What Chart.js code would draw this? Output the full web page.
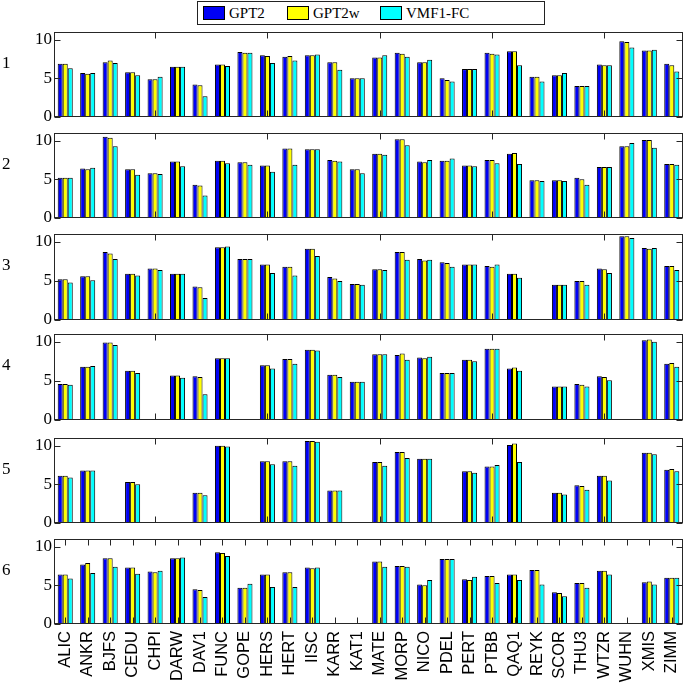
<!DOCTYPE html>
<html>
<head>
<meta charset="utf-8">
<script src="https://cdn.jsdelivr.net/npm/chart.js@4.4.1/dist/chart.umd.min.js"></script>
<style>
body { margin: 0; background: #fff; }
#wrap { position: relative; width: 685px; height: 683px; overflow: hidden; }
#wrap canvas { position: absolute; left: 0; }
.plabel { position: absolute; left: 2px; font: 17px "Liberation Serif", "Times New Roman", serif; line-height: 20px; color: #000; }
#legend { position: absolute; left: 197px; top: 1px; width: 348px; height: 24px; border: 1px solid #222; box-sizing: border-box; background: #fff;
  font: 15px "Liberation Serif", "Times New Roman", serif; color: #000; }
#legend .sw { position: absolute; top: 4px; width: 22px; height: 14px; border: 1px solid #000; box-sizing: border-box; }
#legend .txt { position: absolute; top: 2px; line-height: 18px; white-space: nowrap; }
</style>
</head>
<body>
<div id="wrap"></div>
<script>
// stations on the x axis
const stations = ['ALIC','ANKR','BJFS','CEDU','CHPI','DARW','DAV1','FUNC','GOPE','HERS','HERT','IISC','KARR','KAT1',
  'MATE','MORP','NICO','PDEL','PERT','PTBB','QAQ1','REYK','SCOR','THU3','WTZR','WUHN','XMIS','ZIMM'];
const seriesNames = ['GPT2', 'GPT2w', 'VMF1-FC'];
const seriesColors = ['#0000f5', '#ffff00', '#00ffff'];
const panelNames = ['1', '2', '3', '4', '5', '6'];
const yTicks = [0, 5, 10];

// values per panel, null = no bar
const p1Gpt2  = [6.9,5.7,7.1,5.8,4.9,6.5,4.2,6.8,8.4,8.0,7.8,8.0,7.1,5.0,7.7,8.3,7.1,5.0,6.2,8.3,8.5,5.2,5.4,4.0,6.8,9.8,8.6,6.9];
const p1Gpt2w = [6.9,5.6,7.3,5.8,4.9,6.5,4.1,6.8,8.3,7.9,7.9,8.0,7.1,5.0,7.7,8.2,7.1,4.8,6.2,8.2,8.5,5.2,5.4,4.0,6.7,9.7,8.6,6.7];
const p1Vmf1  = [6.3,5.7,7.0,5.4,5.2,6.5,2.7,6.6,8.3,7.0,7.3,8.1,6.1,5.0,8.0,7.8,7.4,4.6,6.2,8.1,6.7,4.6,5.7,4.0,6.7,9.0,8.7,5.9];

const p2Gpt2  = [5.2,6.4,10.5,6.3,5.8,7.3,4.3,7.4,7.2,6.8,9.0,8.9,7.5,6.3,8.3,10.2,7.3,7.4,6.8,7.5,8.3,4.9,4.9,5.2,6.6,9.3,10.1,7.0];
const p2Gpt2w = [5.2,6.3,10.4,6.3,5.8,7.3,4.2,7.4,7.2,6.8,9.0,8.9,7.4,6.3,8.3,10.2,7.2,7.4,6.8,7.5,8.4,4.9,4.9,5.0,6.6,9.3,10.1,7.0];
const p2Vmf1  = [5.2,6.5,9.3,5.6,5.7,6.7,2.9,7.1,6.9,6.0,6.9,8.9,7.3,5.8,8.2,9.4,7.5,7.7,6.7,7.1,7.0,4.8,4.8,4.3,6.6,9.7,9.1,6.9];

const p3Gpt2  = [5.2,5.6,8.7,5.9,6.6,5.9,4.3,9.3,7.8,7.1,6.8,9.1,5.5,4.6,6.5,8.7,7.8,7.4,7.1,6.9,5.9,null,4.5,5.0,6.6,10.7,9.2,6.9];
const p3Gpt2w = [5.2,5.6,8.5,5.9,6.6,5.9,4.2,9.3,7.8,7.1,6.8,9.1,5.3,4.6,6.5,8.7,7.6,7.3,7.1,6.8,5.9,null,4.5,5.0,6.5,10.7,9.1,6.9];
const p3Vmf1  = [4.8,5.1,7.8,5.7,6.4,5.9,2.8,9.4,7.8,6.0,5.7,8.2,5.0,4.5,6.4,7.7,7.7,6.8,7.1,7.1,5.4,null,4.5,4.5,6.0,10.5,9.2,6.4];

const p4Gpt2  = [4.6,6.8,9.9,6.3,null,5.7,5.6,7.9,null,7.0,7.8,9.0,5.8,4.9,8.4,8.3,8.0,6.0,7.7,9.1,6.6,null,4.3,4.6,5.6,null,10.2,7.2];
const p4Gpt2w = [4.6,6.8,9.9,6.3,null,5.7,5.5,7.9,null,7.0,7.8,9.0,5.8,4.9,8.4,8.5,7.9,6.0,7.7,9.1,6.7,null,4.3,4.5,5.5,null,10.3,7.3];
const p4Vmf1  = [4.5,6.9,9.6,6.0,null,5.4,3.3,7.9,null,6.6,7.2,8.9,5.5,4.9,8.4,7.7,8.1,6.0,7.5,9.1,6.3,null,4.3,4.3,5.1,null,10.0,6.8];

const p5Gpt2  = [6.1,6.8,null,5.3,null,null,3.9,10.0,null,8.0,8.0,10.6,4.2,null,7.9,9.2,8.3,null,6.7,7.3,10.1,null,3.9,4.9,6.1,null,9.1,6.9];
const p5Gpt2w = [6.1,6.8,null,5.3,null,null,3.9,10.0,null,8.0,8.0,10.6,4.2,null,7.9,9.2,8.3,null,6.7,7.3,10.3,null,3.9,4.8,6.1,null,9.1,7.0];
const p5Vmf1  = [5.9,6.8,null,5.0,null,null,3.6,9.9,null,7.6,7.4,10.5,4.2,null,7.4,8.4,8.3,null,6.5,7.5,7.9,null,3.7,4.3,5.5,null,8.9,6.7];

const p6Gpt2  = [6.4,7.7,8.5,7.3,6.8,8.5,4.5,9.3,4.7,6.4,6.7,7.3,null,null,8.1,7.5,5.1,8.4,5.8,6.2,6.4,7.0,4.1,5.3,6.9,null,5.4,6.0];
const p6Gpt2w = [6.4,7.9,8.5,7.3,6.7,8.5,4.4,9.2,4.7,6.4,6.7,7.2,null,null,8.1,7.5,5.0,8.4,5.7,6.2,6.4,7.0,4.0,5.3,6.9,null,5.5,6.0];
const p6Vmf1  = [5.9,6.6,7.4,6.5,6.9,8.6,3.5,8.8,5.2,4.8,4.8,7.3,null,null,7.4,7.4,5.7,8.4,6.1,5.3,5.7,5.1,3.6,4.7,6.4,null,5.1,6.0];

const panels = [
  [p1Gpt2, p1Gpt2w, p1Vmf1], [p2Gpt2, p2Gpt2w, p2Vmf1], [p3Gpt2, p3Gpt2w, p3Vmf1],
  [p4Gpt2, p4Gpt2w, p4Vmf1], [p5Gpt2, p5Gpt2w, p5Vmf1], [p6Gpt2, p6Gpt2w, p6Vmf1]
];

// layout of the plot boxes (page pixels)
const panelTop = [32, 133, 234, 334, 438, 539];
const panelBottom = [117, 218, 320, 420, 523, 624];
const PAD = 10;

// box + inward ticks, matlab style
const framePlugin = {
  id: 'frame',
  afterDatasetsDraw(chart, args, opts) {
    const { ctx, chartArea: a, scales: { x, y } } = chart;
    const L = Math.round(a.left) + 0.5, R = Math.round(a.right) - 0.5;
    const T = Math.round(a.top) + 0.5, B = Math.round(a.bottom) - 0.5;
    ctx.save();
    ctx.strokeStyle = '#262626'; ctx.lineWidth = 1;
    ctx.beginPath();
    yTicks.forEach(v => {
      const py = Math.round(y.getPixelForValue(v)) + 0.5;
      ctx.moveTo(L, py); ctx.lineTo(L + 6, py);
      ctx.moveTo(R, py); ctx.lineTo(R - 6, py);
    });
    opts.xTicks.forEach(i => {
      const px = Math.round(x.getPixelForValue(i)) + 0.5;
      ctx.moveTo(px, T); ctx.lineTo(px, T + 6);
      ctx.moveTo(px, B); ctx.lineTo(px, B - 6);
    });
    ctx.stroke();
    ctx.strokeRect(L, T, R - L, B - T);
    ctx.restore();
  }
};

const wrap = document.getElementById('wrap');

panels.forEach((series, p) => {
  const isLast = p === panels.length - 1;
  const cTop = panelTop[p] - PAD;
  const cH = isLast ? 683 - cTop : panelBottom[p] + PAD - cTop;
  const canvas = document.createElement('canvas');
  canvas.width = 685; canvas.height = cH;
  canvas.style.top = cTop + 'px';
  wrap.appendChild(canvas);

  const xTicks = isLast ? stations.map((s, i) => i) : [4, 9, 14, 19, 24];

  new Chart(canvas, {
    type: 'bar',
    data: {
      labels: stations,
      datasets: series.map((arr, k) => ({
        label: seriesNames[k], data: arr,
        backgroundColor: seriesColors[k], borderColor: '#000', borderWidth: 1,
        categoryPercentage: 0.67, barPercentage: 1
      }))
    },
    options: {
      responsive: false, animation: false, devicePixelRatio: 1,
      layout: { padding: { top: PAD, right: 2, bottom: isLast ? 0 : PAD, left: 0 } },
      plugins: { legend: { display: false }, tooltip: { enabled: false }, frame: { xTicks } },
      scales: {
        x: {
          display: isLast,
          grid: { display: false, drawTicks: false }, border: { display: false },
          ticks: { autoSkip: false, maxRotation: 90, minRotation: 90, padding: 7, color: '#000',
            font: { family: '"Liberation Sans", Arial, sans-serif', size: 16.5 } },
          afterFit(s) {
            if (!isLast) return;
            s.height = 683 - panelBottom[p];
            s.paddingLeft = 0; s.paddingRight = 0;
          }
        },
        y: {
          min: 0, max: 11,
          grid: { display: false, drawTicks: false }, border: { display: false },
          ticks: { padding: 2, color: '#000', font: { family: '"Liberation Serif", "Times New Roman", serif', size: 17 } },
          afterBuildTicks(s) { s.ticks = yTicks.map(v => ({ value: v })); },
          afterFit(s) { s.width = 54; s.paddingTop = 0; s.paddingBottom = 0; }
        }
      }
    },
    plugins: [framePlugin]
  });

  const lab = document.createElement('div');
  lab.className = 'plabel';
  lab.textContent = panelNames[p];
  lab.style.top = (panelTop[p] + 21) + 'px';
  wrap.appendChild(lab);
});

// legend box on top
const legend = document.createElement('div');
legend.id = 'legend';
const swLeft = [5, 89, 182], txtLeft = [31, 115, 208];
seriesNames.forEach((name, k) => {
  const sw = document.createElement('div');
  sw.className = 'sw'; sw.style.left = swLeft[k] + 'px'; sw.style.background = seriesColors[k];
  const t = document.createElement('div');
  t.className = 'txt'; t.style.left = txtLeft[k] + 'px'; t.textContent = name;
  legend.appendChild(sw); legend.appendChild(t);
});
wrap.appendChild(legend);
</script>
</body>
</html>
